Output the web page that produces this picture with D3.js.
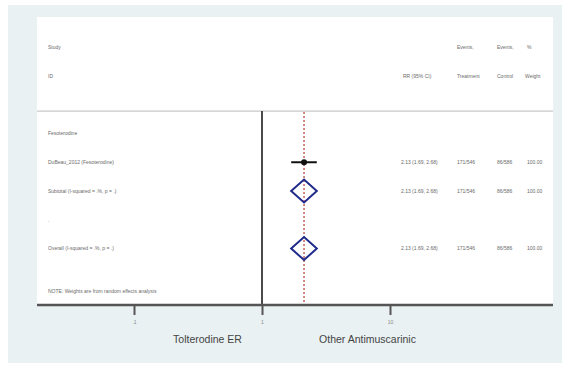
<!DOCTYPE html>
<html><head><meta charset="utf-8">
<script src="https://cdn.jsdelivr.net/npm/d3@7"></script>
<style>body{margin:0;background:#fff}svg{display:block}text{font-family:"Liberation Sans",Arial,sans-serif}</style>
</head><body><svg id="c" width="564" height="365"></svg>
<script>
// ---- data ----
const headerTop = ["Study", "", "Events,", "Events,", "%"];
const headerBottom = ["ID", "RR (95% CI)", "Treatment", "Control", "Weight"];
const rowLabels = ["Fesoterodine", "DuBeau_2012 (Fesoterodine)", "Subtotal  (I-squared = .%, p = .)", ".", "Overall  (I-squared = .%, p = .)"];
const rowTypes = ["group", "study", "subtotal", "blank", "overall"];
const rr = [null, 2.13, 2.13, null, 2.13];
const lower = [null, 1.69, 1.69, null, 1.69];
const upper = [null, 2.68, 2.68, null, 2.68];
const rrText = ["", "2.13 (1.69, 2.68)", "2.13 (1.69, 2.68)", "", "2.13 (1.69, 2.68)"];
const eventsTreatment = ["", "171/546", "171/546", "", "171/546"];
const eventsControl = ["", "86/586", "86/586", "", "86/586"];
const weights = ["", "100.00", "100.00", "", "100.00"];
const axisTicks = [0.1, 1, 10];
const axisTickLabels = [".1", "1", "10"];
const note = "NOTE: Weights are from random effects analysis";
const leftLabel = "Tolterodine ER";
const rightLabel = "Other Antimuscarinic";

// ---- layout ----
const svg = d3.select("#c");
svg.append("rect").attr("x", 8).attr("y", 5).attr("width", 554).attr("height", 358).attr("fill", "#e9f1f3");
svg.append("rect").attr("x", 37).attr("y", 17).attr("width", 516).attr("height", 288).attr("fill", "#ffffff");

const x = d3.scaleLog().domain([0.1, 10]).range([134, 390]);
const y = d3.scaleLinear().domain([0, 1]).range([133.5, 162.25]);
const colX = [48, 402, 457, 497, 527];
const small = 5, txtCol = "#6a6a6a";

// top separator line
svg.append("line").attr("x1", 37).attr("x2", 553).attr("y1", y(-0.78)).attr("y2", y(-0.78))
  .attr("stroke", "#c8c8c8").attr("stroke-width", 1.2);

// header text
const hdr = svg.append("g").attr("font-size", small).attr("fill", txtCol);
headerTop.forEach((t, i) => { if (t) hdr.append("text").attr("x", colX[i]).attr("y", y(-3)).attr("dy", "0.35em").text(t); });
headerBottom.forEach((t, i) => hdr.append("text").attr("x", colX[i] + (i === 1 ? 1 : 0) - (i === 4 ? 2 : 0)).attr("y", y(-2)).attr("dy", "0.35em").text(t));

// null line
svg.append("line").attr("x1", x(1)).attr("x2", x(1)).attr("y1", y(-0.78)).attr("y2", 305)
  .attr("stroke", "#4a4a4a").attr("stroke-width", 2);

// overall dashed line
svg.append("line").attr("x1", x(2.13)).attr("x2", x(2.13)).attr("y1", y(-0.75)).attr("y2", 305)
  .attr("stroke", "#c44a44").attr("stroke-width", 1.3).attr("stroke-dasharray", "2,2");

// rows
const body = svg.append("g").attr("font-size", small).attr("fill", txtCol);
rowLabels.forEach((t, i) => {
  body.append("text").attr("x", colX[0]).attr("y", y(i)).attr("dy", "0.35em").text(t);
  body.append("text").attr("x", colX[1] - 1).attr("y", y(i)).attr("dy", "0.35em").text(rrText[i]);
  body.append("text").attr("x", colX[2]).attr("y", y(i)).attr("dy", "0.35em").text(eventsTreatment[i]);
  body.append("text").attr("x", colX[3]).attr("y", y(i)).attr("dy", "0.35em").text(eventsControl[i]);
  body.append("text").attr("x", colX[4]).attr("y", y(i)).attr("dy", "0.35em").text(weights[i]);
});
body.append("text").attr("x", colX[0]).attr("y", y(5.5)).attr("dy", "0.35em").text(note);

// marks
rowTypes.forEach((tp, i) => {
  if (rr[i] == null) return;
  const cy = y(i);
  if (tp === "study") {
    svg.append("line").attr("x1", x(lower[i])).attr("x2", x(upper[i])).attr("y1", cy).attr("y2", cy)
      .attr("stroke", "#111").attr("stroke-width", 2);
    svg.append("circle").attr("cx", x(rr[i])).attr("cy", cy).attr("r", 3).attr("fill", "#111");
  } else {
    const h = 11.5;
    const pts = [[x(lower[i]), cy], [x(rr[i]), cy - h], [x(upper[i]), cy], [x(rr[i]), cy + h]];
    svg.append("path").attr("d", d3.line()(pts) + "Z").attr("fill", "none")
      .attr("stroke", "#1f2a8a").attr("stroke-width", 2);
  }
});

// axis
const axis = d3.axisBottom(x).tickValues(axisTicks).tickFormat((d, i) => axisTickLabels[i]).tickSize(10).tickPadding(5);
const ag = svg.append("g").attr("transform", "translate(0,305)").call(axis);
ag.select(".domain").attr("d", "M37,0H553").attr("stroke", "#555").attr("stroke-width", 2.5);
ag.selectAll(".tick line").attr("stroke", "#555").attr("stroke-width", 2);
ag.selectAll(".tick text").attr("font-size", 5).attr("fill", "#888").attr("font-family", "Liberation Sans, Arial");

// footer labels
svg.append("text").attr("x", 207.5).attr("y", 343).attr("text-anchor", "middle").attr("font-size", 10.5)
  .attr("fill", "#444").text(leftLabel);
svg.append("text").attr("x", 367.5).attr("y", 343).attr("text-anchor", "middle").attr("font-size", 10.5)
  .attr("fill", "#444").text(rightLabel);
</script></body></html>
